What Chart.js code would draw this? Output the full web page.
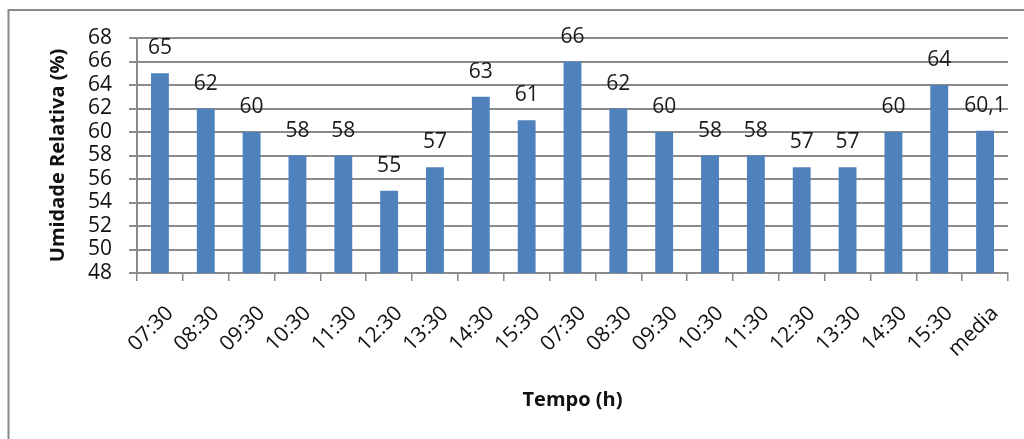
<!DOCTYPE html>
<html lang="pt">
<head>
<meta charset="utf-8">
<title>Umidade Relativa</title>
<script src="https://cdn.jsdelivr.net/npm/chart.js@4/dist/chart.umd.min.js"></script>
<style>
  html, body { margin: 0; padding: 0; background: #ffffff; }
  #wrap { position: relative; width: 1024px; height: 439px; }
</style>
</head>
<body>
<div id="wrap"><canvas id="chart" width="1024" height="439"></canvas></div>
<script>
// Horários das medições (dois dias) e a média geral
const horarios = [
  '07:30', '08:30', '09:30', '10:30', '11:30', '12:30', '13:30', '14:30', '15:30',
  '07:30', '08:30', '09:30', '10:30', '11:30', '12:30', '13:30', '14:30', '15:30',
  'media'
];

// Umidade relativa do ar (%)
const umidade = [65, 62, 60, 58, 58, 55, 57, 63, 61, 66, 62, 60, 58, 58, 57, 57, 60, 64, 60.1];

// Eixo Y
const yMin = 48;
const yMax = 68;
const yPasso = 2;

const FONTE = "'Open Sans', 'DejaVu Sans', sans-serif";
const CINZA = '#8a8a8a';
const TAM = 21;

// Rótulos de valor acima das barras (vírgula decimal)
const rotulosValor = {
  id: 'rotulosValor',
  afterDatasetsDraw(chart) {
    const ctx = chart.ctx;
    const meta = chart.getDatasetMeta(0);
    ctx.save();
    ctx.font = TAM + 'px ' + FONTE;
    ctx.fillStyle = '#1a1a1a';
    ctx.textAlign = 'center';
    ctx.textBaseline = 'alphabetic';
    meta.data.forEach((bar, i) => {
      const v = chart.data.datasets[0].data[i];
      const txt = String(v).replace('.', ',');
      ctx.fillText(txt, bar.x, bar.y - 19);
    });
    ctx.restore();
  }
};

// Moldura externa do gráfico
const moldura = {
  id: 'moldura',
  beforeDraw(chart) {
    const ctx = chart.ctx;
    ctx.save();
    ctx.fillStyle = '#ffffff';
    ctx.fillRect(0, 0, chart.width, chart.height);
    ctx.strokeStyle = CINZA;
    ctx.lineWidth = 2;
    ctx.beginPath();
    ctx.moveTo(8.5, chart.height + 2);
    ctx.lineTo(8.5, 10);
    ctx.lineTo(chart.width + 2, 10);
    ctx.stroke();
    ctx.restore();
  }
};

new Chart(document.getElementById('chart'), {
  type: 'bar',
  data: {
    labels: horarios,
    datasets: [{
      data: umidade,
      backgroundColor: '#4f81bd',
      borderWidth: 0,
      categoryPercentage: 1.0,
      barPercentage: 0.39
    }]
  },
  options: {
    responsive: false,
    animation: false,
    devicePixelRatio: 1,
    layout: { padding: { left: 0, top: 38, right: 16, bottom: 0 } },
    plugins: {
      legend: { display: false },
      tooltip: { enabled: false }
    },
    scales: {
      x: {
        offset: true,
        grid: {
          display: true,
          drawOnChartArea: false,
          drawTicks: true,
          tickLength: 8,
          color: CINZA,
          lineWidth: 1.5
        },
        border: { display: true, color: CINZA, width: 2 },
        ticks: {
          autoSkip: false,
          minRotation: 45,
          maxRotation: 45,
          padding: 20,
          labelOffset: 10,
          color: '#111111',
          font: { family: FONTE, size: TAM }
        },
        title: {
          display: true,
          text: 'Tempo (h)',
          color: '#111111',
          font: { family: FONTE, size: 20, weight: 'bold' },
          padding: { top: 0, bottom: 27 }
        },
        afterFit(scale) { scale.height = 166; }
      },
      y: {
        min: yMin,
        max: yMax,
        ticks: {
          stepSize: yPasso,
          autoSkip: false,
          padding: 17,
          color: '#111111',
          font: { family: FONTE, size: TAM }
        },
        grid: {
          color: CINZA,
          lineWidth: 2,
          drawTicks: true,
          tickLength: 8
        },
        border: { display: true, color: CINZA, width: 2 },
        title: {
          display: true,
          text: 'Umidade Relativa (%)',
          color: '#111111',
          font: { family: FONTE, size: 20, weight: 'bold' },
          padding: { top: 46, bottom: 0 }
        },
        afterFit(scale) { scale.width = 137; }
      }
    }
  },
  plugins: [moldura, rotulosValor]
});
</script>
</body>
</html>
